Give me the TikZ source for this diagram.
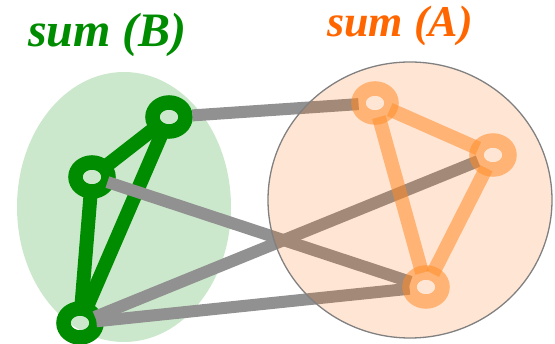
\documentclass[tikz,border=0pt]{standalone}
\usepackage{fontspec}
\setmainfont{Liberation Serif}
\usetikzlibrary{shapes.geometric}
\definecolor{gr}{RGB}{0,140,0}
\definecolor{gy}{RGB}{145,145,145}
\definecolor{orn}{RGB}{255,102,0}
\definecolor{orl}{RGB}{255,140,40}
\pgfdeclarelayer{lone}
\pgfdeclarelayer{ltwo}
\pgfdeclarelayer{lthree}
\pgfsetlayers{lone,ltwo,lthree,main}
\begin{document}
\begin{tikzpicture}[x=1pt,y=-1pt,
 ring/.style={ellipse, minimum width=33pt, minimum height=29pt, inner sep=0pt, outer sep=0pt, line width=14.5pt},
 gring/.style={ring, draw=gr},
 oring/.style={ring, draw=orl, draw opacity=0.55},
 gedge/.style={draw=gr, line width=14pt},
 oedge/.style={draw=orl, line width=14pt, draw opacity=0.55},
 yedge/.style={draw=gy, line width=12pt},
 title/.style={anchor=base west, inner sep=0pt, font=\bfseries\itshape}]
\useasboundingbox (0,0) rectangle (555,344);
\begin{pgfonlayer}{lone}
\fill[gr!20] (124,207) ellipse [x radius=107pt, y radius=135pt];
\node[gring] (n1) at (169,117) {};
\node[gring] (n2) at (92,177) {};
\node[gring] (n3) at (80,323) {};
\draw[gedge] (n1) -- (n2);
\draw[gedge] (n1) -- (n3);
\draw[gedge] (n2) -- (n3);
\end{pgfonlayer}
\node[oring] (o1) at (375,103) {};
\node[oring] (o2) at (493,155) {};
\node[oring] (o3) at (426,287) {};
\draw[oedge] (o1) -- (o2);
\draw[oedge] (o1) -- (o3);
\draw[oedge] (o2) -- (o3);
\begin{pgfonlayer}{ltwo}
\draw[yedge, shorten <=7pt] (n1) -- (o1);
\draw[yedge] (n2) -- (o3);
\draw[yedge] (n3) -- (o2);
\draw[yedge] (n3) -- (o3);
\end{pgfonlayer}
\begin{pgfonlayer}{lthree}
\path[fill=orn, fill opacity=0.17, draw=gray, line width=1.3pt] (410,200) ellipse [x radius=142pt, y radius=138pt];
\end{pgfonlayer}
\node[title, text=gr, font=\bfseries\itshape\fontsize{48}{50}\selectfont] (tb) at (28,47) {sum (B)};
\node[title, text=orn, font=\bfseries\itshape\fontsize{44}{46}\selectfont] (ta) at (327,37) {sum (A)};
\end{tikzpicture}
\end{document}
